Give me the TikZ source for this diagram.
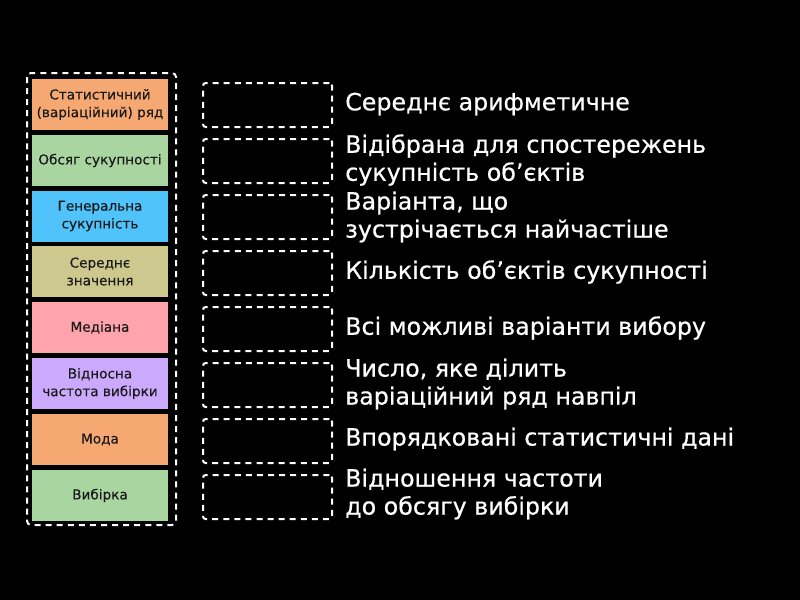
\documentclass[tikz,border=0pt]{standalone}
\usepackage{fontspec}
\setmainfont{DejaVu Sans}
\newfontfamily\descfont{DejaVu Sans}[FakeBold=0.6]
\newfontfamily\tilefont{DejaVu Sans}[FakeBold=0.3]
\begin{document}
\begin{tikzpicture}[x=0.75pt,y=-0.75pt,
  tile/.style={rectangle,minimum width=136*0.75pt,minimum height=51*0.75pt,inner sep=0pt,align=center,font=\tilefont\fontsize{10.2}{13.3}\selectfont,text=black!90},
  slot/.style={draw=white,line width=1.5pt,dash pattern=on 4.5pt off 3.8pt,rounded corners=2pt,minimum width=129*0.75pt,minimum height=44*0.75pt,inner sep=0pt},
  desc/.style={anchor=west,align=left,text=white,inner sep=0pt,font=\descfont\fontsize{17.8}{21}\selectfont}]
\definecolor{corange}{HTML}{F5A872}
\definecolor{cgreen}{HTML}{A8D5A0}
\definecolor{cblue}{HTML}{4FC3FA}
\definecolor{ckhaki}{HTML}{CDC98E}
\definecolor{cpink}{HTML}{FFA3AC}
\definecolor{cviolet}{HTML}{CBAAFE}
\fill[black] (0,0) rectangle (800,600);
\useasboundingbox (0,0) rectangle (800,600);
\draw[white,line width=1.5pt,dash pattern=on 4.5pt off 3.8pt,rounded corners=3pt] (27,73) rectangle (176,525);
\node[tile,fill=corange] (t1) at (100,104.5) {Статистичний\\(варіаційний) ряд};
\node[tile,fill=cgreen] (t2) at (100,160.5) {Обсяг сукупності};
\node[tile,fill=cblue] (t3) at (100,216) {Генеральна\\сукупність};
\node[tile,fill=ckhaki] (t4) at (100,271.5) {Середнє\\значення};
\node[tile,fill=cpink] (t5) at (100,327.5) {Медіана};
\node[tile,fill=cviolet] (t6) at (100,383.5) {Відносна\\частота вибірки};
\node[tile,fill=corange] (t7) at (100,439.5) {Мода};
\node[tile,fill=cgreen] (t8) at (100,495.5) {Вибірка};
\foreach \i/\y in {1/105,2/161,3/217,4/273,5/329,6/385,7/441,8/497}{
  \node[slot] (s\i) at (267.5,\y) {};
}
\node[desc] (d1) at (345,104) {Середнє арифметичне};
\node[desc] (d2) at (345,160) {Відібрана для спостережень\\сукупність об’єктів};
\node[desc] (d3) at (345,217) {Варіанта, що\\зустрічається найчастіше};
\node[desc] (d4) at (345,272) {Кількість об’єктів сукупності};
\node[desc] (d5) at (345,328) {Всі можливі варіанти вибору};
\node[desc] (d6) at (345,384) {Число, яке ділить\\варіаційний ряд навпіл};
\node[desc] (d7) at (345,439) {Впорядковані статистичні дані};
\node[desc] (d8) at (345,494) {Відношення частоти\\до обсягу вибірки};
\end{tikzpicture}
\end{document}
